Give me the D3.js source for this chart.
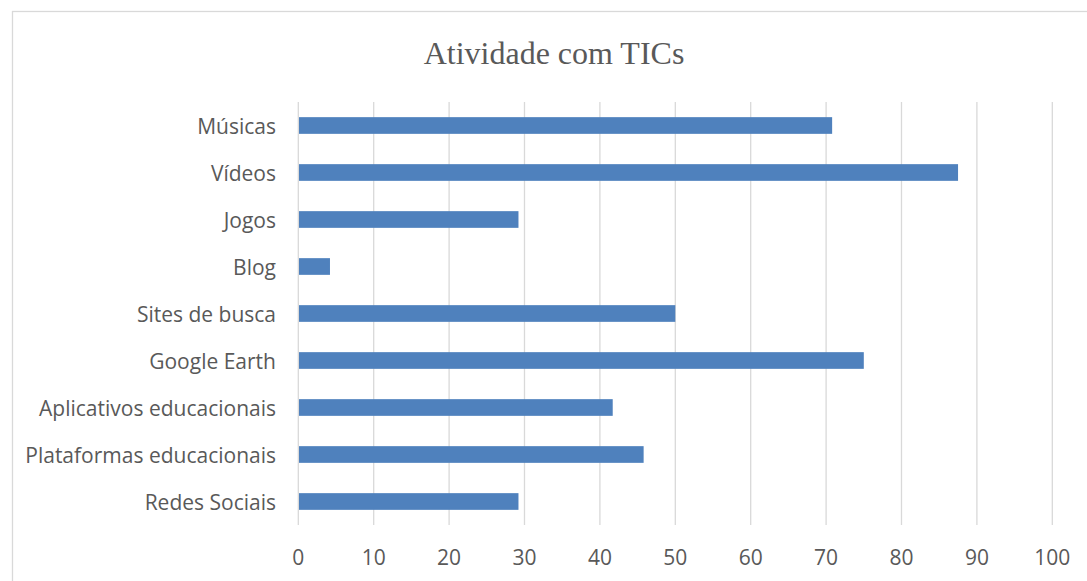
<!DOCTYPE html>
<meta charset="utf-8">
<style>
body { margin: 0; background: #fff; }
.grid line { stroke: #d9d9d9; stroke-width: 1.3px; }
.cat text, .ticks text { font-family: "Open Sans", Lato, sans-serif; fill: #595959; }
</style>
<svg width="1087" height="581"></svg>
<script src="https://d3js.org/d3.v7.min.js"></script>
<script>

var categories = ["Músicas", "Vídeos", "Jogos", "Blog", "Sites de busca", "Google Earth",
  "Aplicativos educacionais", "Plataformas educacionais", "Redes Sociais"];
var values = [70.8, 87.5, 29.2, 4.2, 50, 75, 41.7, 45.8, 29.2];
var tickValues = [0, 10, 20, 30, 40, 50, 60, 70, 80, 90, 100];

var svg = d3.select("svg");

// chart frame, runs off the right/bottom like the screenshot
svg.append("rect")
    .attr("x", 12.5).attr("y", 11.5)
    .attr("width", 1100).attr("height", 600)
    .attr("fill", "#fff")
    .attr("stroke", "#d9d9d9")
    .attr("stroke-width", 1.3);

svg.append("text")
    .attr("x", 554).attr("y", 64)
    .attr("text-anchor", "middle")
    .style("font-family", "'Liberation Serif', 'Times New Roman', serif")
    .style("font-size", "32px")
    .style("fill", "#595959")
    .text("Atividade com TICs");

var x = d3.scaleLinear().domain([0, 100]).range([298.3, 1052.3]);
var y = d3.scaleBand().domain(categories).range([102, 525]).paddingInner(0.645).paddingOuter(0.3225);

svg.append("g").attr("class", "grid")
  .selectAll("line")
  .data(tickValues)
  .enter().append("line")
    .attr("x1", function(d) { return x(d); })
    .attr("x2", function(d) { return x(d); })
    .attr("y1", 102).attr("y2", 525);

svg.append("g")
  .selectAll("rect")
  .data(categories)
  .enter().append("rect")
    .attr("x", x(0) + 0.7)
    .attr("y", function(d) { return y(d); })
    .attr("width", function(d, i) { return x(values[i]) - x(0) - 0.7; })
    .attr("height", y.bandwidth())
    .attr("fill", "#4f81bd");

svg.append("g").attr("class", "cat")
  .selectAll("text")
  .data(categories)
  .enter().append("text")
    .attr("x", 276)
    .attr("y", function(d) { return y(d) + y.bandwidth() / 2; })
    .attr("dy", "0.4em")
    .attr("text-anchor", "end")
    .style("font-size", "21px")
    .text(function(d) { return d; });

svg.append("g").attr("class", "ticks")
  .selectAll("text")
  .data(tickValues)
  .enter().append("text")
    .attr("x", function(d) { return x(d); })
    .attr("y", 557.5)
    .attr("dy", "0.35em")
    .attr("text-anchor", "middle")
    .style("font-size", "21px")
    .text(function(d) { return d; });

</script>
